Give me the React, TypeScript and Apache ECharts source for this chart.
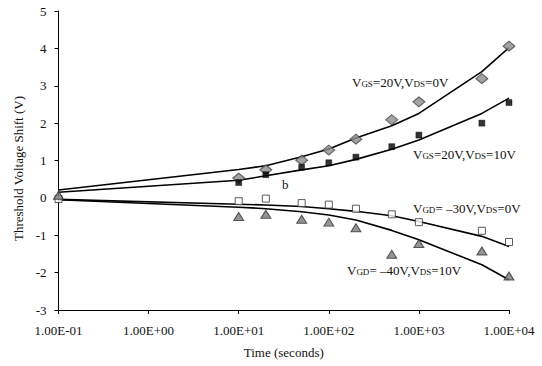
import React, { useEffect, useRef } from "react";
import * as echarts from "echarts";

// Times (s) at which the fitted curves are evaluated
const fitTimes = [0.1, 10, 20, 50, 100, 200, 500, 1000, 5000, 10000];
// Measurement times
const measTimesPos = [10, 20, 50, 100, 200, 500, 1000, 5000, 10000];
const measTimesNeg = [0.1, 10, 20, 50, 100, 200, 500, 1000, 5000, 10000];

// Measured threshold voltage shifts (V)
const gs20ds0 = [0.53, 0.75, 1.01, 1.28, 1.57, 2.09, 2.57, 3.19, 4.06];
const gs20ds10 = [0.41, 0.62, 0.82, 0.94, 1.09, 1.37, 1.68, 2.0, 2.55];
const gdm30ds0 = [-0.03, -0.09, -0.02, -0.14, -0.18, -0.29, -0.44, -0.65, -0.88, -1.18];
const gdm40ds10 = [0.07, -0.5, -0.44, -0.57, -0.65, -0.8, -1.51, -1.22, -1.42, -2.09];

// Fitted curves (V)
const fitGs20ds0 = [0.21, 0.76, 0.86, 1.1, 1.31, 1.6, 1.93, 2.26, 3.38, 4.02];
const fitGs20ds10 = [0.15, 0.47, 0.59, 0.75, 0.86, 1.03, 1.3, 1.55, 2.26, 2.67];
const fitGdm30ds0 = [-0.04, -0.17, -0.19, -0.23, -0.29, -0.36, -0.48, -0.63, -1.03, -1.3];
const fitGdm40ds10 = [-0.05, -0.25, -0.29, -0.37, -0.46, -0.59, -0.87, -1.12, -1.79, -2.19];

const yTicks = { min: -3, max: 5, interval: 1 };

const FONT = "Liberation Serif";

function sci(v: number): string {
  const e = Math.round(Math.log10(v));
  const m = v / Math.pow(10, e);
  const sign = e < 0 ? "-" : "+";
  return m.toFixed(2) + "E" + sign + String(Math.abs(e)).padStart(2, "0");
}

const zip = (xs: number[], ys: number[]) => ys.map((y, i) => [xs[i], y]);

const rich = {
  m: { fontSize: 13, fontFamily: FONT, fill: "#111", lineHeight: 16, verticalAlign: "bottom" },
  s: { fontSize: 9, fontFamily: FONT, fill: "#111", lineHeight: 16, verticalAlign: "bottom", padding: [0, 0, 1, 0] },
};

function label(x: number, y: number, text: string) {
  return {
    type: "text",
    x,
    y,
    style: { text, rich, fontFamily: FONT, fontSize: 13, fill: "#111", verticalAlign: "middle", align: "left" },
  };
}

export default function App() {
  const ref = useRef<HTMLDivElement>(null);
  useEffect(() => {
    if (!ref.current) return;
    const chart = echarts.init(ref.current, null, { renderer: "svg" });
    const lineStyle = { color: "#000", width: 1.6 };
    chart.setOption({
      animation: false,
      backgroundColor: "#fff",
      textStyle: { fontFamily: FONT },
      grid: { left: 58.5, right: 33, top: 11, bottom: 56, containLabel: false },
      xAxis: {
        type: "log",
        logBase: 10,
        min: 0.1,
        max: 10000,
        name: "Time (seconds)",
        nameLocation: "middle",
        nameGap: 36,
        nameTextStyle: { fontFamily: FONT, fontSize: 13, color: "#111" },
        axisLine: { onZero: false, lineStyle: { color: "#000", width: 1 } },
        axisTick: { show: true, length: 4, lineStyle: { color: "#000" } },
        minorTick: { show: false },
        splitLine: { show: false },
        axisLabel: {
          formatter: (v: number) => sci(v),
          fontFamily: FONT,
          fontSize: 13,
          color: "#111",
          margin: 14,
        },
      },
      yAxis: {
        type: "value",
        min: yTicks.min,
        max: yTicks.max,
        interval: yTicks.interval,
        name: "Threshold Voltage Shift (V)",
        nameLocation: "middle",
        nameGap: 32,
        nameTextStyle: { fontFamily: FONT, fontSize: 13, color: "#111", padding: [0, 16, 0, 0] },
        axisLine: { show: true, lineStyle: { color: "#000", width: 1 } },
        axisTick: { show: true, length: 4, lineStyle: { color: "#000" } },
        splitLine: { show: false },
        axisLabel: { fontFamily: FONT, fontSize: 13, color: "#111", margin: 12 },
      },
      series: [
        { type: "line", data: zip(fitTimes, fitGs20ds0), symbol: "none", lineStyle, z: 2 },
        { type: "line", data: zip(fitTimes, fitGs20ds10), symbol: "none", lineStyle, z: 2 },
        { type: "line", data: zip(fitTimes, fitGdm30ds0), symbol: "none", lineStyle, z: 2 },
        { type: "line", data: zip(fitTimes, fitGdm40ds10), symbol: "none", lineStyle, z: 2 },
        {
          type: "scatter",
          data: zip(measTimesPos, gs20ds0),
          symbol: "diamond",
          symbolSize: [12, 10],
          itemStyle: { color: "#8c8c8c", borderColor: "#404040", borderWidth: 1 },
          z: 3,
        },
        {
          type: "scatter",
          data: zip(measTimesPos, gs20ds10),
          symbol: "rect",
          symbolSize: 6,
          itemStyle: { color: "#000", borderColor: "#000", borderWidth: 0.5 },
          z: 3,
        },
        {
          type: "scatter",
          data: zip(measTimesNeg, gdm30ds0),
          symbol: "rect",
          symbolSize: 7,
          itemStyle: { color: "#fff", borderColor: "#333", borderWidth: 1 },
          z: 3,
        },
        {
          type: "scatter",
          data: zip(measTimesNeg, gdm40ds10),
          symbol: "triangle",
          symbolSize: [10, 8],
          itemStyle: { color: "#7a7a7a", borderColor: "#333", borderWidth: 1 },
          z: 4,
        },
      ],
      graphic: [
        label(352, 81, "{m|V}{s|GS}{m|=20V,V}{s|DS}{m|=0V}"),
        label(413, 153, "{m|V}{s|GS}{m|=20V,V}{s|DS}{m|=10V}"),
        label(413, 207, "{m|V}{s|GD}{m|= \u201330V,V}{s|DS}{m|=0V}"),
        label(347, 269, "{m|V}{s|GD}{m|= \u201340V,V}{s|DS}{m|=10V}"),
        label(282, 183, "{m|b}"),
      ],
    });
    return () => chart.dispose();
  }, []);
  return (
    <div
      ref={ref}
      style={{ position: "fixed", left: 0, top: 0, width: 542, height: 366, background: "#fff" }}
    />
  );
}
